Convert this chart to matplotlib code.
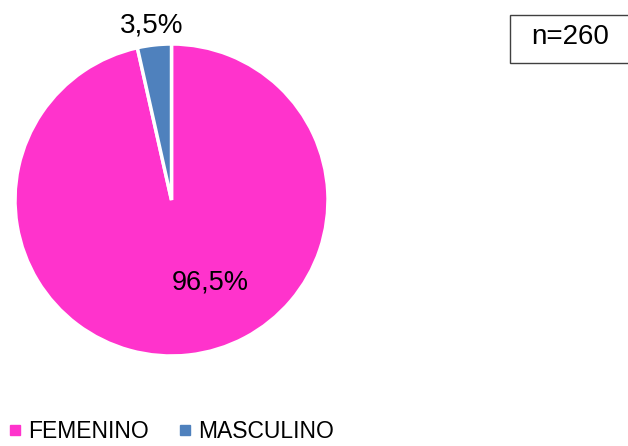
import matplotlib.pyplot as plt
from matplotlib.patches import Rectangle
from matplotlib.lines import Line2D

plt.rcParams['font.family'] = ['Liberation Sans', 'DejaVu Sans']

categories = ['FEMENINO', 'MASCULINO']
values = [96.5, 3.5]
colors = ['#FF33CC', '#4F81BD']
pct_labels = ['96,5%', '3,5%']
n_text = 'n=260'

fig = plt.figure(figsize=(6.28, 4.46), dpi=100)
ax = fig.add_axes([15 / 628, 90 / 446, 313 / 628, 312 / 446])
wedges, _ = ax.pie(values, colors=colors, startangle=90, counterclock=False,
                   radius=1, wedgeprops=dict(edgecolor='white', linewidth=2.5))
ax.set_xlim(-1, 1)
ax.set_ylim(-1, 1)
ax.set_aspect('auto')

ax.text(0.246, -0.532, pct_labels[0], ha='center', va='center', fontsize=19.5)
ax.text(-0.125, 1.12, pct_labels[1], ha='center', va='center', fontsize=20,
        clip_on=False)

# n box
fig.patches.append(Rectangle((510 / 628, (446 - 63) / 446), 130 / 628, 48 / 446,
                             transform=fig.transFigure, facecolor='white',
                             edgecolor='#404040', linewidth=1))
fig.text(570 / 628, (446 - 37) / 446, n_text, ha='center', va='center', fontsize=20)

handles = [Line2D([], [], marker='s', linestyle='', markersize=6.5,
                  markerfacecolor=c, markeredgecolor=c) for c in colors]
fig.legend(handles, categories, loc='lower left', bbox_to_anchor=(-0.027, -0.04),
           ncol=2, frameon=False, fontsize=16.5, handletextpad=0.05,
           columnspacing=1.1, handlelength=1.0)

fig.savefig('out.png', dpi=100)
